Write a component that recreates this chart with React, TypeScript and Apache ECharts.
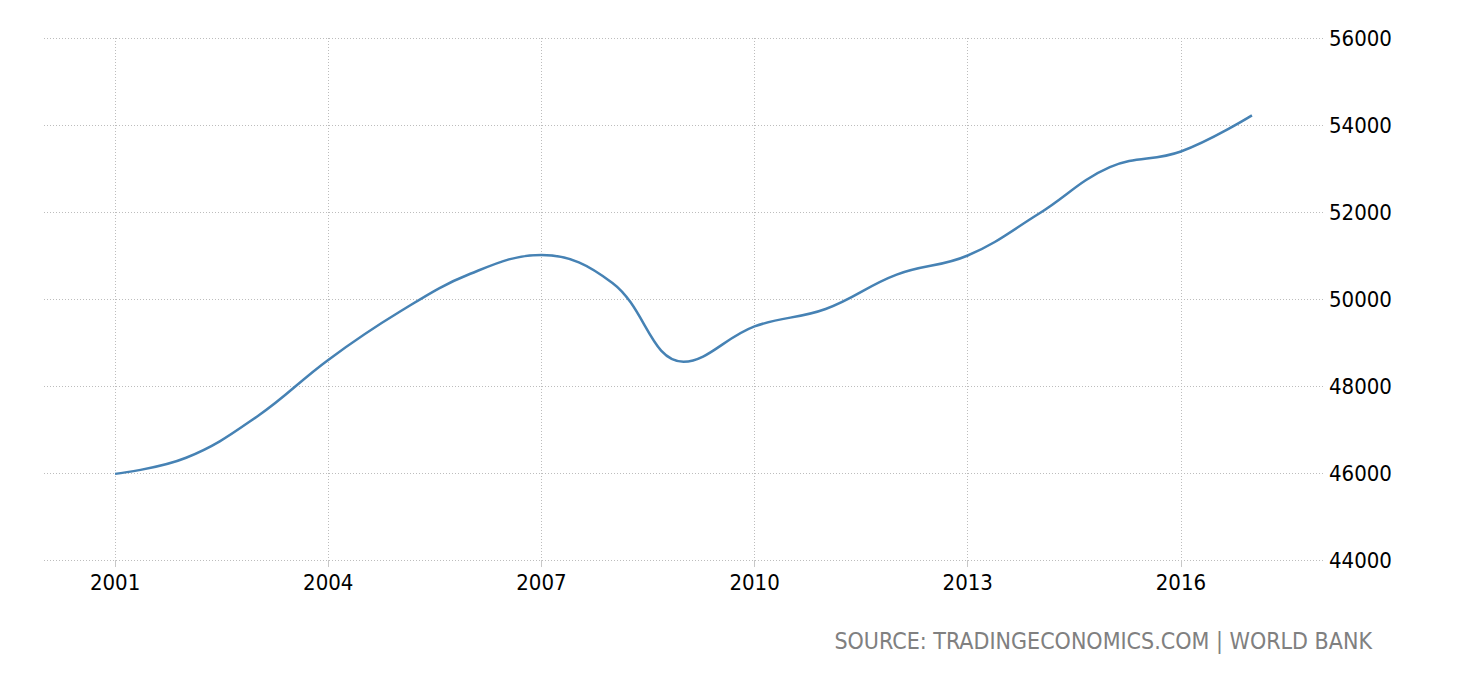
import React, { useEffect, useRef } from "react";
import * as echarts from "echarts";

const years = [2001, 2002, 2003, 2004, 2005, 2006, 2007, 2008, 2009, 2010, 2011, 2012, 2013, 2014, 2015, 2016, 2017];
const values = [45980, 46350, 47300, 48600, 49700, 50580, 51010, 50370, 48560, 49370, 49770, 50560, 51000, 51960, 53030, 53390, 54220];
const xTickYears = [2001, 2004, 2007, 2010, 2013, 2016];
const sourceText = "SOURCE: TRADINGECONOMICS.COM | WORLD BANK";

const FONT = "DejaVu Sans Condensed";

export default function App() {
  const ref = useRef<HTMLDivElement>(null);
  useEffect(() => {
    if (!ref.current) return;
    const chart = echarts.init(ref.current, null, { renderer: "svg" });
    chart.setOption({
      animation: false,
      backgroundColor: "#ffffff",
      grid: { left: 44, right: 137, top: 38, bottom: 120, containLabel: false },
      xAxis: {
        type: "value",
        min: 2000,
        max: 2018,
        axisLine: { show: false },
        axisTick: {
          show: true,
          customValues: xTickYears,
          length: 7,
          lineStyle: { color: "#c8c8c8", width: 1 },
        },
        axisLabel: {
          customValues: xTickYears,
          color: "#000000",
          fontFamily: FONT,
          fontSize: 22,
          margin: 11,
          formatter: (v: number) => String(v),
        },
        splitLine: { show: true, lineStyle: { color: "#bdbdbd", type: [1, 2], width: 1 } },
      },
      yAxis: {
        type: "value",
        position: "right",
        min: 44000,
        max: 56000,
        interval: 2000,
        axisLine: { show: false },
        axisTick: { show: false },
        axisLabel: {
          color: "#000000",
          fontFamily: FONT,
          fontSize: 22,
          margin: 6,
          align: "left",
          formatter: (v: number) => String(v),
        },
        splitLine: { show: true, lineStyle: { color: "#bdbdbd", type: [1, 2], width: 1 } },
      },
      series: [
        {
          type: "line",
          data: years.map((y, i) => [y, values[i]]),
          smooth: 0.4,
          showSymbol: false,
          lineStyle: { color: "#4682b4", width: 2.5 },
        },
      ],
      graphic: [
        {
          type: "text",
          right: 88,
          top: 629,
          style: {
            text: sourceText,
            fill: "#808080",
            font: `23px "${FONT}"`,
          },
        },
      ],
    });
    return () => chart.dispose();
  }, []);
  return (
    <div
      ref={ref}
      style={{ position: "absolute", left: 0, top: 0, width: 1460, height: 680 }}
    />
  );
}
